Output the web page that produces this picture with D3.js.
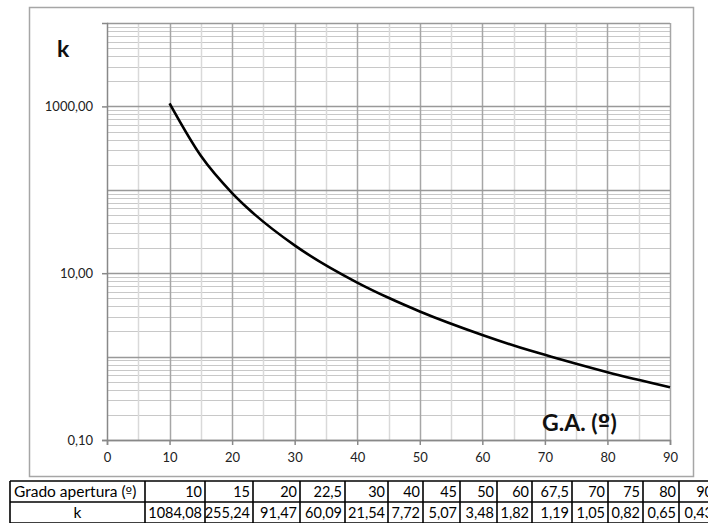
<!DOCTYPE html>
<html>
<head>
<meta charset="utf-8">
<script src="https://cdn.jsdelivr.net/npm/d3@7"></script>
<style>
  html, body { margin: 0; padding: 0; background: #fff; }
  svg { display: block; }
  text { font-family: Lato, "Open Sans", "Liberation Sans", sans-serif; }
  .ord { font-family: "DejaVu Sans", sans-serif; }
</style>
</head>
<body>
<svg id="chart" width="708" height="523"></svg>
<script>
// Opening angle (degrees) and coefficient k
const apertura = [10, 15, 20, 22.5, 30, 40, 45, 50, 60, 67.5, 70, 75, 80, 90];
const kValues = [1084.08, 255.24, 91.47, 60.09, 21.54, 7.72, 5.07, 3.48, 1.82, 1.19, 1.05, 0.82, 0.65, 0.43];
const xTicks = [0, 10, 20, 30, 40, 50, 60, 70, 80, 90];
const yTickLabels = [0.1, 10, 1000];
const rowTitles = ["Grado apertura (", "k"];

const W = 708, H = 523;
const margin = { left: 107, right: 670, top: 23, bottom: 440 };

const es = d3.formatLocale({ decimal: ",", thousands: ".", grouping: [3], currency: ["", "€"] });
const fmt2 = es.format(".2f");
const fmtAng = v => String(v).replace(".", ",");

const svg = d3.select("#chart");

// chart border
svg.append("rect")
  .attr("x", 29.5).attr("y", 7.5).attr("width", 664).attr("height", 469)
  .attr("fill", "none").attr("stroke", "#a6a6a6").attr("stroke-width", 1.5);

const x = d3.scaleLinear().domain([0, 90]).range([margin.left, margin.right]);
const y = d3.scaleLog().domain([0.1, 10000]).range([margin.bottom, margin.top]);

const grid = svg.append("g");

// horizontal minor lines (2..9 in each decade)
const minorY = [];
const majorY = [];
for (let e = -1; e < 4; e++) {
  const base = Math.pow(10, e);
  majorY.push(base);
  for (let m = 2; m <= 9; m++) minorY.push(base * m);
}
majorY.push(10000);

grid.selectAll(".hminor").data(minorY).join("line")
  .attr("x1", margin.left).attr("x2", margin.right)
  .attr("y1", d => Math.round(y(d)) + 0.5).attr("y2", d => Math.round(y(d)) + 0.5)
  .attr("stroke", "#c8c8c8").attr("stroke-width", 1.2);

// vertical minor lines every 5
const minorX = d3.range(5, 90, 10);
grid.selectAll(".vminor").data(minorX).join("line")
  .attr("x1", d => Math.round(x(d)) + 0.5).attr("x2", d => Math.round(x(d)) + 0.5)
  .attr("y1", margin.top).attr("y2", margin.bottom)
  .attr("stroke", "#d9d9d9").attr("stroke-width", 1.5);

// vertical major lines every 10
grid.selectAll(".vmajor").data(xTicks.slice(1)).join("line")
  .attr("x1", d => Math.round(x(d)) + 0.5).attr("x2", d => Math.round(x(d)) + 0.5)
  .attr("y1", margin.top).attr("y2", margin.bottom)
  .attr("stroke", "#a6a6a6").attr("stroke-width", 1.5);

// horizontal decade lines
grid.selectAll(".hmajor").data(majorY).join("line")
  .attr("x1", margin.left).attr("x2", margin.right)
  .attr("y1", d => Math.round(y(d)) + 0.5).attr("y2", d => Math.round(y(d)) + 0.5)
  .attr("stroke", "#999").attr("stroke-width", 1.5);

// axes
const xAxis = d3.axisBottom(x).tickValues(xTicks).tickSize(5).tickPadding(8).tickFormat(d => d);
const gx = svg.append("g").attr("transform", `translate(0,${margin.bottom})`).call(xAxis);
gx.select(".domain").attr("stroke", "#888").attr("stroke-width", 1.5);
gx.selectAll(".tick line").attr("stroke", "#888").attr("stroke-width", 1.5);
gx.selectAll("text").attr("font-size", 13).attr("fill", "#222");

const yAxis = d3.axisLeft(y).tickValues(yTickLabels).tickSize(5).tickPadding(9).tickFormat(d => fmt2(d));
const gy = svg.append("g").attr("transform", `translate(${margin.left},0)`).call(yAxis);
gy.select(".domain").attr("stroke", "#888").attr("stroke-width", 1.5);
gy.selectAll(".tick line").attr("stroke", "#888").attr("stroke-width", 1.5);
gy.selectAll("text").attr("font-size", 13).attr("fill", "#222");

// curve
const pts = apertura.map((a, i) => [a, kValues[i]]);
const line = d3.line().x(d => x(d[0])).y(d => y(d[1])).curve(d3.curveMonotoneX);
svg.append("path").datum(pts)
  .attr("d", line).attr("fill", "none")
  .attr("stroke", "#000").attr("stroke-width", 2.6).attr("stroke-linejoin", "round");

// axis titles
svg.append("text").attr("x", 57).attr("y", 57)
  .attr("font-size", 23).attr("font-weight", "bold").attr("fill", "#111").text("k");
const ga = svg.append("text").attr("x", 542).attr("y", 431)
  .attr("font-size", 23).attr("font-weight", "bold").attr("fill", "#111");
ga.append("tspan").text("G.A. (");
ga.append("tspan").attr("class", "ord").text("º");
ga.append("tspan").text(")");

// data table
const colEdges = [10, 145, 205, 253, 300, 345, 388, 423, 460, 497, 532, 572, 608, 643, 679, 716];
const rowEdges = [481, 502, 523];
const tbl = svg.append("g");

tbl.selectAll(".vb").data(colEdges).join("line")
  .attr("x1", d => d).attr("x2", d => d)
  .attr("y1", rowEdges[0]).attr("y2", rowEdges[2])
  .attr("stroke", "#000").attr("stroke-width", 1.6);
tbl.selectAll(".hb").data(rowEdges).join("line")
  .attr("x1", colEdges[0]).attr("x2", W)
  .attr("y1", d => d).attr("y2", d => d)
  .attr("stroke", "#000").attr("stroke-width", 1.4);

const t0 = tbl.append("text").attr("x", 14).attr("y", rowEdges[0] + 16)
  .attr("font-size", 15.5);
t0.append("tspan").text(rowTitles[0]);
t0.append("tspan").attr("class", "ord").attr("font-size", 14).text("º");
t0.append("tspan").text(")");
tbl.append("text").attr("x", (colEdges[0] + colEdges[1]) / 2).attr("y", rowEdges[1] + 16)
  .attr("text-anchor", "middle").attr("font-size", 15.5).text(rowTitles[1]);

tbl.selectAll(".ang").data(apertura).join("text")
  .attr("x", (d, i) => colEdges[i + 2] - 3).attr("y", rowEdges[0] + 16)
  .attr("text-anchor", "end").attr("font-size", 14.5).text(d => fmtAng(d));
tbl.selectAll(".kv").data(kValues).join("text")
  .attr("x", (d, i) => colEdges[i + 2] - 3).attr("y", rowEdges[1] + 16)
  .attr("text-anchor", "end").attr("font-size", 14.5).text(d => fmt2(d));
</script>
</body>
</html>
